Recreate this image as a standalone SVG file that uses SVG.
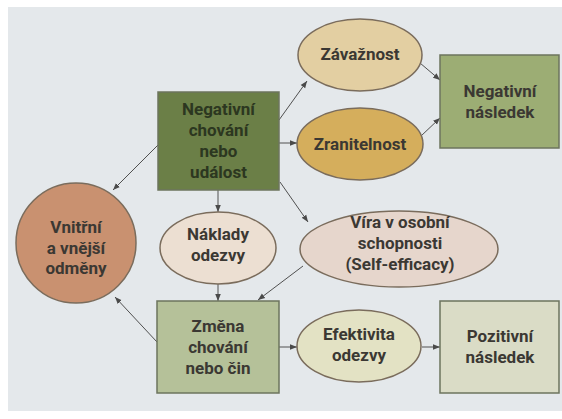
<svg xmlns="http://www.w3.org/2000/svg" width="562" height="419" viewBox="0 0 562 419">
<defs>
<marker id="ah" viewBox="0 0 10 10" refX="10" refY="5" markerWidth="7" markerHeight="7" orient="auto" markerUnits="userSpaceOnUse">
<path d="M0,1 L10,5 L0,9 z" fill="#4a4a4a"/>
</marker>
<style>
.t{font-family:"Roboto","Liberation Sans",sans-serif;font-weight:bold;font-size:17px;fill:#3b3833;text-anchor:middle}
.tg{fill:#2c3720}
.box{stroke:#6c745e;stroke-width:1.5}
.el{stroke:#7a6c5c;stroke-width:1.5}
.c{stroke:#505050;stroke-width:1;fill:none;marker-end:url(#ah)}
</style>
</defs>
<rect x="0" y="0" width="562" height="419" fill="#ffffff"/>
<rect x="8" y="7" width="554" height="404" fill="#e4e8eb"/>
<g id="connectors">
<line class="c" x1="279" y1="120" x2="307" y2="81"/>
<line class="c" x1="279" y1="143" x2="297" y2="143"/>
<line class="c" x1="280" y1="182" x2="308" y2="222"/>
<line class="c" x1="218" y1="190" x2="218" y2="212"/>
<line class="c" x1="158" y1="145" x2="113" y2="190"/>
<line class="c" x1="420" y1="63" x2="440" y2="80"/>
<line class="c" x1="421" y1="136" x2="440" y2="118"/>
<line class="c" x1="218" y1="284" x2="218" y2="301"/>
<line class="c" x1="303" y1="266" x2="258" y2="300"/>
<line class="c" x1="157" y1="342" x2="115" y2="297"/>
<line class="c" x1="279" y1="347" x2="297" y2="347"/>
<line class="c" x1="422" y1="347" x2="440" y2="347"/>
</g>
<g id="negativni-chovani">
<rect class="box" x="158" y="92" width="121" height="98" fill="#6b7f47"/>
<text class="t tg" x="218.5" y="115">Negativní</text>
<text class="t tg" x="218.5" y="136">chování</text>
<text class="t tg" x="218.5" y="157">nebo</text>
<text class="t tg" x="218.5" y="178">událost</text>
</g>
<g id="zavaznost">
<ellipse class="el" cx="360" cy="55" rx="62" ry="36" fill="#e3cfa2"/>
<text class="t" x="360" y="60">Závažnost</text>
</g>
<g id="zranitelnost">
<ellipse class="el" cx="360" cy="144" rx="63" ry="36" fill="#d5ae5c"/>
<text class="t" x="360" y="150">Zranitelnost</text>
</g>
<g id="negativni-nasledek">
<rect class="box" x="440" y="55" width="119" height="93" fill="#9cad74"/>
<text class="t" x="500" y="97">Negativní</text>
<text class="t" x="500" y="118">následek</text>
</g>
<g id="odmeny">
<circle class="el" cx="76" cy="243" r="60" fill="#c99170"/>
<text class="t" x="76" y="233">Vnitřní</text>
<text class="t" x="76" y="253.5">a vnější</text>
<text class="t" x="76" y="274">odměny</text>
</g>
<g id="naklady">
<ellipse class="el" cx="218" cy="248" rx="58" ry="36" fill="#ecdfd2"/>
<text class="t" x="218" y="240">Náklady</text>
<text class="t" x="218" y="261">odezvy</text>
</g>
<g id="vira">
<ellipse class="el" cx="399" cy="249" rx="99" ry="38" fill="#e6d6cc"/>
<text class="t" x="400" y="228">Víra v osobní</text>
<text class="t" x="400" y="249">schopnosti</text>
<text class="t" x="400" y="270">(Self-efficacy)</text>
</g>
<g id="zmena">
<rect class="box" x="157" y="301" width="122" height="92" fill="#b5c199"/>
<text class="t" x="218" y="332">Změna</text>
<text class="t" x="218" y="353">chování</text>
<text class="t" x="218" y="374">nebo čin</text>
</g>
<g id="efektivita">
<ellipse class="el" cx="359" cy="346" rx="62" ry="36" fill="#e3e2c4"/>
<text class="t" x="359" y="340">Efektivita</text>
<text class="t" x="359" y="361">odezvy</text>
</g>
<g id="pozitivni-nasledek">
<rect class="box" x="440" y="301" width="119" height="92" fill="#dadcc6"/>
<text class="t" x="500" y="342">Pozitivní</text>
<text class="t" x="500" y="363">následek</text>
</g>
</svg>
